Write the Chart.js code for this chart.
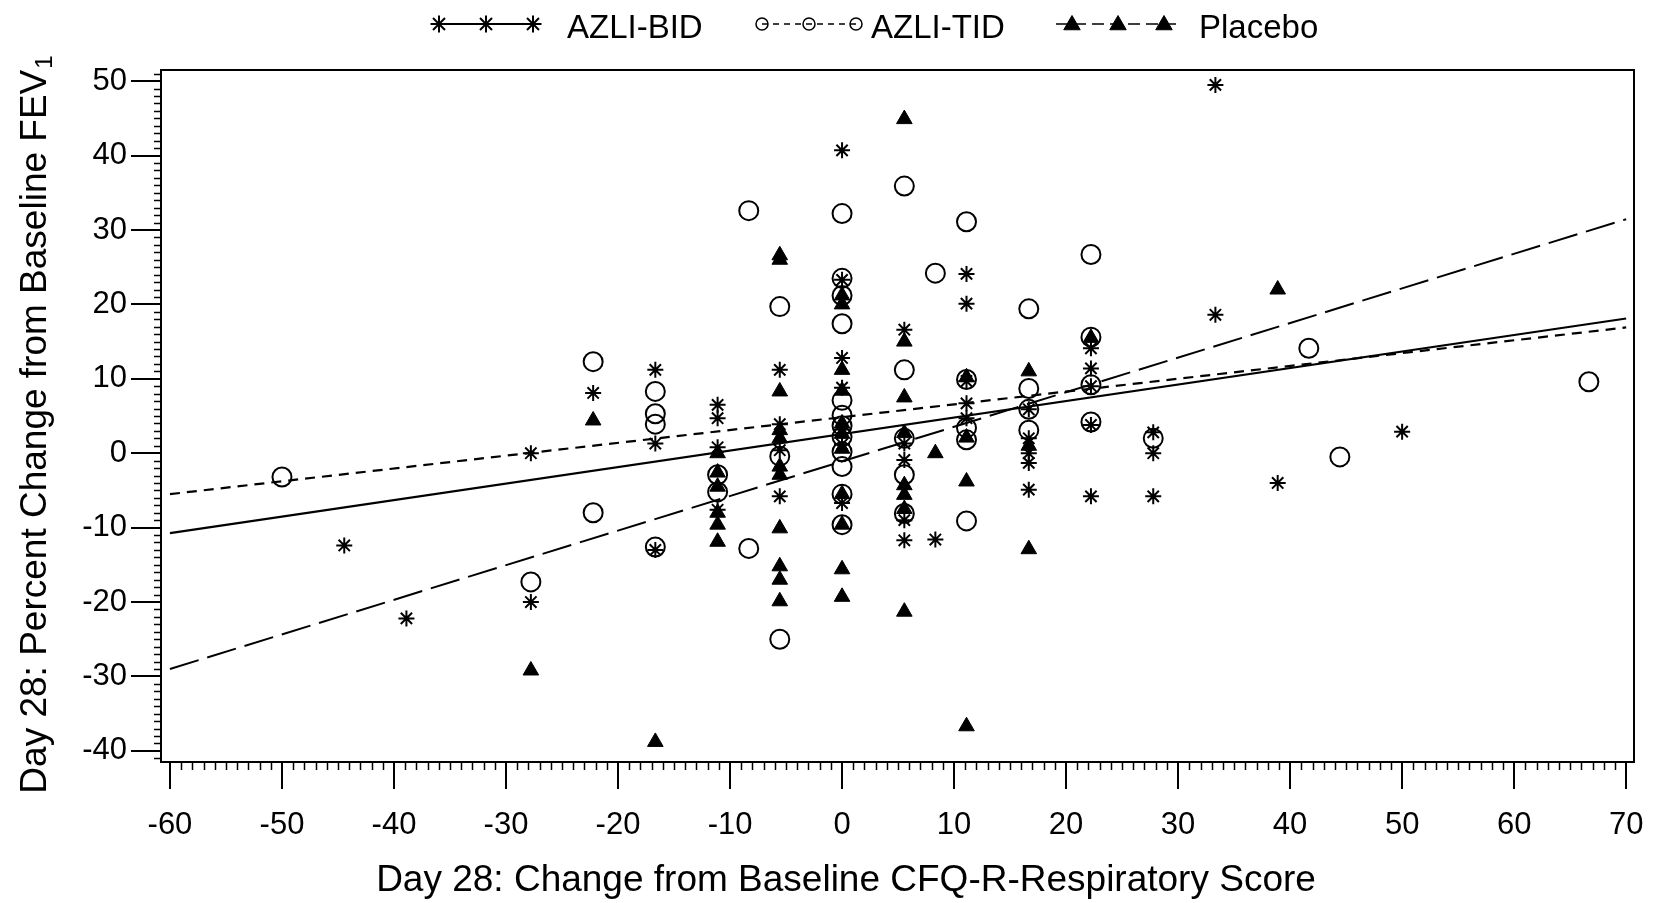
<!DOCTYPE html>
<html>
<head>
<meta charset="utf-8">
<script src="https://cdn.jsdelivr.net/npm/chart.js@4.4.1/dist/chart.umd.min.js"></script>
<style>
  html, body { margin: 0; padding: 0; background: #fff; }
  #wrap { width: 1654px; height: 903px; }
</style>
</head>
<body>
<div id="wrap"><canvas id="scatterChart"></canvas></div>
<script>
// tick labels
var xTicks = [-60, -50, -40, -30, -20, -10, 0, 10, 20, 30, 40, 50, 60, 70];
var yTicks = [-40, -30, -20, -10, 0, 10, 20, 30, 40, 50];

// AZLI-BID (asterisk)
var bidX = [-44.44, -38.89, -27.78, -27.78, -22.22, -16.67, -16.67, -16.67, -11.11, -11.11, -11.11, -11.11,
            -5.56, -5.56, -5.56, -5.56, 0, 0, 0, 0, 0, 0, 0, 5.56, 5.56, 5.56, 5.56, 5.56, 8.33,
            11.11, 11.11, 11.11, 11.11, 11.11, 16.67, 16.67, 16.67, 16.67, 16.67,
            22.22, 22.22, 22.22, 22.22, 22.22, 27.78, 27.78, 27.78, 33.33, 33.33, 38.89, 50];
var bidY = [-12.4, -22.2, 0.0, -20.0, 8.1, 11.2, 1.3, -13.0, 6.5, 4.7, 0.8, -7.6,
            11.2, 3.9, 0.4, -5.8, 40.7, 23.3, 12.8, 8.8, 3.2, 1.2, -6.7, 16.6, 1.3, -0.9, -9.0, -11.7, -11.6,
            24.1, 20.1, 9.7, 6.7, 4.7, 5.9, 2.0, 0.0, -1.3, -4.9,
            14.1, 11.4, 9.0, 3.8, -5.8, 2.8, 0.0, -5.8, 49.5, 18.6, -4.0, 2.9];

// AZLI-TID (open circle)
var tidX = [-50, -27.78, -22.22, -22.22, -16.67, -16.67, -16.67, -16.67, -11.11, -11.11, -8.33, -8.33,
            -5.56, -5.56, -5.56, 0, 0, 0, 0, 0, 0, 0, 0, 0, 0, 0, 0,
            5.56, 5.56, 5.56, 5.56, 5.56, 8.33, 11.11, 11.11, 11.11, 11.11, 11.11,
            16.67, 16.67, 16.67, 16.67, 22.22, 22.22, 22.22, 22.22, 27.78, 41.67, 44.44, 66.67];
var tidY = [-3.2, -17.3, 12.3, -8.0, 8.3, 5.3, 3.9, -12.6, -2.9, -5.2, 32.6, -12.8,
            19.7, -0.4, -25.0, 32.2, 23.5, 21.2, 17.4, 7.1, 5.1, 3.7, 2.2, 0.2, -1.8, -5.5, -9.6,
            35.9, 11.2, 2.0, -2.9, -8.1, 24.2, 31.1, 9.9, 3.4, 1.8, -9.1,
            19.4, 8.7, 5.9, 3.1, 26.7, 15.6, 9.2, 4.2, 2.0, 14.1, -0.5, 9.6];

// Placebo (filled triangle)
var plcX = [-27.78, -22.22, -16.67, -11.11, -11.11, -11.11, -11.11, -11.11, -11.11,
            -5.56, -5.56, -5.56, -5.56, -5.56, -5.56, -5.56, -5.56, -5.56, -5.56, -5.56,
            0, 0, 0, 0, 0, 0, 0, 0, 0, 0, 0,
            5.56, 5.56, 5.56, 5.56, 5.56, 5.56, 5.56, 5.56, 8.33,
            11.11, 11.11, 11.11, 11.11, 16.67, 16.67, 16.67, 22.22, 38.89];
var plcY = [-29.2, 4.4, -38.8, 0.0, -2.6, -4.5, -8.0, -9.6, -11.9,
            26.6, 26.0, 8.3, 3.1, 2.0, -1.8, -2.9, -10.1, -15.2, -17.0, -19.9,
            21.2, 20.0, 11.2, 8.4, 4.0, 2.6, 0.6, -5.5, -9.6, -15.6, -19.3,
            44.9, 15.0, 7.5, 2.7, -4.3, -5.6, -7.5, -21.3, 0.0,
            10.2, 2.1, -3.8, -36.7, 11.0, 1.0, -12.9, 15.5, 22.0];

// fitted lines, end values
var fitX = [-60, 70];
var bidFitY = [-10.75, 18.1];
var tidFitY = [-5.5, 16.9];
var plcFitY = [-29.0, 31.45];

function pts(xs, ys) {
    return xs.map(function (x, i) { return { x: x, y: ys[i] }; });
}

var FONT = "'Liberation Sans', Arial, Helvetica, sans-serif";
Chart.defaults.font.family = FONT;
Chart.defaults.color = '#000';

function marker(ctx, style, r, x, y, filled) {
    if (Chart.helpers && Chart.helpers.drawPoint) {
        ctx.fillStyle = filled ? '#000' : 'rgba(0,0,0,0)';
        Chart.helpers.drawPoint(ctx, { pointStyle: style, radius: r, rotation: 0, borderWidth: ctx.lineWidth }, x, y);
    }
}

var extras = {
    id: 'extras',
    afterDraw: function (chart) {
        var ctx = chart.ctx, a = chart.chartArea;
        var xs = chart.scales.x, ys = chart.scales.y;
        ctx.save();
        ctx.strokeStyle = '#000';
        ctx.lineWidth = 2;
        ctx.setLineDash([]);
        ctx.strokeRect(a.left, a.top, a.right - a.left, a.bottom - a.top);

        // minor ticks
        ctx.lineWidth = 1.5;
        ctx.beginPath();
        for (var v = -60; v <= 70; v++) {
            if (v % 10 === 0) continue;
            var px = Math.round(xs.getPixelForValue(v)) + 0.5;
            ctx.moveTo(px, a.bottom);
            ctx.lineTo(px, a.bottom + 8);
        }
        for (var w = -41; w <= 51; w++) {
            if (w % 10 === 0) continue;
            var py = Math.round(ys.getPixelForValue(w)) + 0.5;
            ctx.moveTo(a.left, py);
            ctx.lineTo(a.left - 7, py);
        }
        ctx.stroke();

        // axis titles
        ctx.fillStyle = '#000';
        ctx.font = '37px ' + FONT;
        ctx.textAlign = 'center';
        ctx.textBaseline = 'alphabetic';
        ctx.fillText('Day 28: Change from Baseline CFQ-R-Respiratory Score', 846, 891);

        ctx.save();
        ctx.translate(46, 425);
        ctx.rotate(-Math.PI / 2);
        var main = 'Day 28: Percent Change from Baseline FEV';
        ctx.font = '37px ' + FONT;
        var w1 = ctx.measureText(main).width;
        ctx.font = '24px ' + FONT;
        var w2 = ctx.measureText('1').width;
        var start = -(w1 + w2) / 2;
        ctx.textAlign = 'left';
        ctx.font = '37px ' + FONT;
        ctx.fillText(main, start, 0);
        ctx.font = '24px ' + FONT;
        ctx.fillText('1', start + w1 + 1, 6);
        ctx.restore();

        // legend
        var ly = 24;
        ctx.lineWidth = 2;
        ctx.beginPath();
        ctx.moveTo(439, ly); ctx.lineTo(533, ly);
        ctx.stroke();
        [439, 486, 533].forEach(function (x) { marker(ctx, 'star', 8.5, x, ly, false); });

        ctx.lineWidth = 1.5;
        ctx.setLineDash([6, 5]);
        ctx.beginPath();
        ctx.moveTo(762, ly); ctx.lineTo(856, ly);
        ctx.stroke();
        ctx.setLineDash([]);
        [762, 809, 856].forEach(function (x) { marker(ctx, 'circle', 6, x, ly, false); });

        ctx.setLineDash([12, 6]);
        ctx.beginPath();
        ctx.moveTo(1056, ly); ctx.lineTo(1178, ly);
        ctx.stroke();
        ctx.setLineDash([]);
        ctx.lineWidth = 1;
        [1072, 1118, 1164].forEach(function (x) { marker(ctx, 'triangle', 9.5, x, ly + 1, true); });

        ctx.fillStyle = '#000';
        ctx.font = '33px ' + FONT;
        ctx.textAlign = 'left';
        ctx.textBaseline = 'middle';
        ctx.fillText('AZLI-BID', 567, 29);
        ctx.fillText('AZLI-TID', 871, 29);
        ctx.fillText('Placebo', 1199, 29);
        ctx.restore();
    }
};

var ctx = document.getElementById('scatterChart').getContext('2d');

var myChart = new Chart(ctx, {
    type: 'scatter',
    data: {
        datasets: [
            {
                label: 'AZLI-BID',
                data: pts(bidX, bidY),
                pointStyle: 'star',
                pointRadius: 8,
                borderColor: '#000',
                backgroundColor: '#000',
                pointBorderWidth: 2
            },
            {
                label: 'AZLI-TID',
                data: pts(tidX, tidY),
                pointStyle: 'circle',
                pointRadius: 9.5,
                borderColor: '#000',
                backgroundColor: 'rgba(0,0,0,0)',
                pointBorderWidth: 2
            },
            {
                label: 'Placebo',
                data: pts(plcX, plcY),
                pointStyle: 'triangle',
                pointRadius: 9,
                borderColor: '#000',
                backgroundColor: '#000',
                pointBorderWidth: 1
            },
            {
                type: 'line',
                label: 'BID fit',
                data: pts(fitX, bidFitY),
                borderColor: '#000',
                borderWidth: 2.2,
                pointRadius: 0,
                fill: false
            },
            {
                type: 'line',
                label: 'TID fit',
                data: pts(fitX, tidFitY),
                borderColor: '#000',
                borderWidth: 2.2,
                borderDash: [10, 7],
                pointRadius: 0,
                fill: false
            },
            {
                type: 'line',
                label: 'Placebo fit',
                data: pts(fitX, plcFitY),
                borderColor: '#000',
                borderWidth: 2,
                borderDash: [30, 9],
                pointRadius: 0,
                fill: false
            }
        ]
    },
    options: {
        responsive: true,
        maintainAspectRatio: false,
        animation: false,
        layout: { padding: { left: 0, top: 70, right: 20, bottom: 0 } },
        plugins: {
            legend: { display: false },
            tooltip: { enabled: false }
        },
        scales: {
            x: {
                type: 'linear',
                position: 'bottom',
                min: -60.8,
                max: 70.7,
                afterBuildTicks: function (s) { s.ticks = xTicks.map(function (v) { return { value: v }; }); },
                afterFit: function (s) { s.height = 141; s.paddingLeft = 0; s.paddingRight = 0; },
                grid: { drawOnChartArea: false, drawTicks: true, tickLength: 27, color: '#000', lineWidth: 2 },
                border: { display: true, color: '#000', width: 2 },
                ticks: { font: { size: 31 }, color: '#000', padding: 18, maxRotation: 0, autoSkip: false }
            },
            y: {
                type: 'linear',
                min: -41.5,
                max: 51.5,
                afterBuildTicks: function (s) { s.ticks = yTicks.map(function (v) { return { value: v }; }); },
                afterFit: function (s) { s.width = 161; s.paddingTop = 0; s.paddingBottom = 0; },
                grid: { drawOnChartArea: false, drawTicks: true, tickLength: 30, color: '#000', lineWidth: 2 },
                border: { display: true, color: '#000', width: 2 },
                ticks: { font: { size: 31 }, color: '#000', padding: 4, autoSkip: false }
            }
        }
    },
    plugins: [extras]
});
</script>
</body>
</html>
